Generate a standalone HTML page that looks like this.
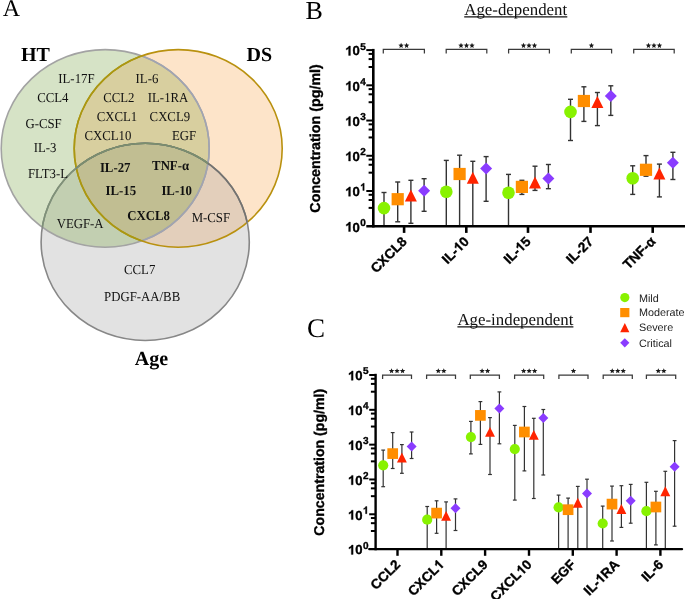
<!DOCTYPE html><html><head><meta charset="utf-8"><style>html,body{margin:0;padding:0;background:#fff;}svg{display:block;will-change:transform;text-rendering:geometricPrecision;} .cb{stroke:#000;stroke-width:0.35px;}</style></head><body>
<svg width="685" height="599" viewBox="0 0 685 599">
<rect width="685" height="599" fill="#fff"/>
<defs>
<clipPath id="cHT"><ellipse cx="105.2" cy="148.45" rx="104.0" ry="98.85" /></clipPath>
<clipPath id="cDS"><ellipse cx="178.2" cy="148.45" rx="104.0" ry="98.85" /></clipPath>
<clipPath id="cAG"><ellipse cx="145.2" cy="241.9" rx="104.1" ry="98.6" /></clipPath>
</defs>
<ellipse cx="145.2" cy="241.9" rx="104.1" ry="98.6" fill="#e2e2e2"/>
<ellipse cx="105.2" cy="148.45" rx="104.0" ry="98.85" fill="#d6e3c6"/>
<ellipse cx="178.2" cy="148.45" rx="104.0" ry="98.85" fill="#fde4c9"/>
<g clip-path="url(#cDS)"><ellipse cx="105.2" cy="148.45" rx="104.0" ry="98.85" fill="#d8cf9f"/></g>
<g clip-path="url(#cHT)"><ellipse cx="145.2" cy="241.9" rx="104.1" ry="98.6" fill="#c2cfb1"/></g>
<g clip-path="url(#cDS)"><ellipse cx="145.2" cy="241.9" rx="104.1" ry="98.6" fill="#e3cfbb"/></g>
<g clip-path="url(#cHT)"><g clip-path="url(#cDS)"><ellipse cx="145.2" cy="241.9" rx="104.1" ry="98.6" fill="#c1be92"/></g></g>
<ellipse cx="105.2" cy="148.45" rx="104.0" ry="98.85" fill="none" stroke="#a3a3a3" stroke-width="1.6"/>
<g clip-path="url(#cDS)"><ellipse cx="105.2" cy="148.45" rx="104.0" ry="98.85" fill="none" stroke="#a1a4b1" stroke-width="1.6"/></g>
<ellipse cx="178.2" cy="148.45" rx="104.0" ry="98.85" fill="none" stroke="#b9910f" stroke-width="1.6"/>
<g clip-path="url(#cHT)"><ellipse cx="178.2" cy="148.45" rx="104.0" ry="98.85" fill="none" stroke="#a99812" stroke-width="1.6"/></g>
<ellipse cx="145.2" cy="241.9" rx="104.1" ry="98.6" fill="none" stroke="#878787" stroke-width="1.6"/>
<g clip-path="url(#cHT)"><ellipse cx="145.2" cy="241.9" rx="104.1" ry="98.6" fill="none" stroke="#7f9278" stroke-width="1.6"/></g>
<g clip-path="url(#cDS)"><ellipse cx="145.2" cy="241.9" rx="104.1" ry="98.6" fill="none" stroke="#747370" stroke-width="1.6"/></g>
<g clip-path="url(#cHT)"><g clip-path="url(#cDS)"><ellipse cx="145.2" cy="241.9" rx="104.1" ry="98.6" fill="none" stroke="#7b8f6e" stroke-width="1.6"/></g></g>
<text transform="translate(58.29,83.10) scale(1,1.07)" font-family='"Liberation Serif", serif' font-size="12.8" font-weight="normal" fill="#111">IL-17F</text>
<text transform="translate(37.19,101.90) scale(1,1.07)" font-family='"Liberation Serif", serif' font-size="12.8" font-weight="normal" fill="#111">CCL4</text>
<text transform="translate(25.39,128.40) scale(1,1.07)" font-family='"Liberation Serif", serif' font-size="12.8" font-weight="normal" fill="#111">G-CSF</text>
<text transform="translate(33.69,152.30) scale(1,1.07)" font-family='"Liberation Serif", serif' font-size="12.8" font-weight="normal" fill="#111">IL-3</text>
<text transform="translate(27.99,178.10) scale(1,1.07)" font-family='"Liberation Serif", serif' font-size="12.8" font-weight="normal" fill="#111">FLT3-L</text>
<text transform="translate(135.59,83.00) scale(1,1.07)" font-family='"Liberation Serif", serif' font-size="12.8" font-weight="normal" fill="#111">IL-6</text>
<text transform="translate(103.19,102.20) scale(1,1.07)" font-family='"Liberation Serif", serif' font-size="12.8" font-weight="normal" fill="#111">CCL2</text>
<text transform="translate(147.79,102.20) scale(1,1.07)" font-family='"Liberation Serif", serif' font-size="12.8" font-weight="normal" fill="#111">IL-1RA</text>
<text transform="translate(96.69,121.20) scale(1,1.07)" font-family='"Liberation Serif", serif' font-size="12.8" font-weight="normal" fill="#111">CXCL1</text>
<text transform="translate(149.59,121.20) scale(1,1.07)" font-family='"Liberation Serif", serif' font-size="12.8" font-weight="normal" fill="#111">CXCL9</text>
<text transform="translate(84.39,139.60) scale(1,1.07)" font-family='"Liberation Serif", serif' font-size="12.8" font-weight="normal" fill="#111">CXCL10</text>
<text transform="translate(171.99,139.60) scale(1,1.07)" font-family='"Liberation Serif", serif' font-size="12.8" font-weight="normal" fill="#111">EGF</text>
<text transform="translate(99.89,171.80) scale(1,1.07)" font-family='"Liberation Serif", serif' font-size="12.8" font-weight="bold" fill="#111">IL-27</text>
<text transform="translate(152.09,169.90) scale(1,1.07)" font-family='"Liberation Serif", serif' font-size="12.8" font-weight="bold" fill="#111">TNF-α</text>
<text transform="translate(105.59,194.60) scale(1,1.07)" font-family='"Liberation Serif", serif' font-size="12.8" font-weight="bold" fill="#111">IL-15</text>
<text transform="translate(161.39,194.60) scale(1,1.07)" font-family='"Liberation Serif", serif' font-size="12.8" font-weight="bold" fill="#111">IL-10</text>
<text transform="translate(127.19,219.50) scale(1,1.07)" font-family='"Liberation Serif", serif' font-size="12.8" font-weight="bold" fill="#111">CXCL8</text>
<text transform="translate(56.69,227.50) scale(1,1.07)" font-family='"Liberation Serif", serif' font-size="12.8" font-weight="normal" fill="#111">VEGF-A</text>
<text transform="translate(191.69,222.00) scale(1,1.07)" font-family='"Liberation Serif", serif' font-size="12.8" font-weight="normal" fill="#111">M-CSF</text>
<text transform="translate(123.99,274.30) scale(1,1.07)" font-family='"Liberation Serif", serif' font-size="12.8" font-weight="normal" fill="#111">CCL7</text>
<text transform="translate(104.09,300.90) scale(1,1.07)" font-family='"Liberation Serif", serif' font-size="12.8" font-weight="normal" fill="#111">PDGF-AA/BB</text>
<text x="20.9" y="60.7" font-family='"Liberation Serif", serif' font-size="20" font-weight="bold" text-anchor="start" fill="#000" >HT</text>
<text x="246.6" y="60.7" font-family='"Liberation Serif", serif' font-size="20" font-weight="bold" text-anchor="start" fill="#000" >DS</text>
<text x="134.8" y="364.5" font-family='"Liberation Serif", serif' font-size="20" font-weight="bold" text-anchor="start" fill="#000" >Age</text>
<text x="2.65" y="15.6" font-family='"Liberation Serif", serif' font-size="24" font-weight="normal" text-anchor="start" fill="#000" >A</text>
<text x="305.59999999999997" y="18.5" font-family='"Liberation Serif", serif' font-size="26" font-weight="normal" text-anchor="start" fill="#000" >B</text>
<text x="307.0" y="336.9" font-family='"Liberation Serif", serif' font-size="27" font-weight="normal" text-anchor="start" fill="#000" >C</text>
<text x="464.25" y="15.0" font-family='"Liberation Serif", serif' font-size="16.85" font-weight="normal" text-anchor="start" fill="#111" >Age-dependent</text>
<line x1="464.2" y1="16.9" x2="567.3" y2="16.9" stroke="#111" stroke-width="1.2"/>
<text x="457.45000000000005" y="324.6" font-family='"Liberation Serif", serif' font-size="16.85" font-weight="normal" text-anchor="start" fill="#111" >Age-independent</text>
<line x1="457.4" y1="326.8" x2="573.4" y2="326.8" stroke="#111" stroke-width="1.2"/>
<line x1="384" y1="192.5" x2="384" y2="226.2" stroke="#333" stroke-width="1.4"/>
<line x1="381.5" y1="192.5" x2="386.5" y2="192.5" stroke="#333" stroke-width="1.4"/>
<line x1="397.7" y1="182" x2="397.7" y2="221.8" stroke="#333" stroke-width="1.4"/>
<line x1="395.2" y1="182" x2="400.2" y2="182" stroke="#333" stroke-width="1.4"/>
<line x1="395.2" y1="221.8" x2="400.2" y2="221.8" stroke="#333" stroke-width="1.4"/>
<line x1="410.9" y1="180.3" x2="410.9" y2="223.3" stroke="#333" stroke-width="1.4"/>
<line x1="408.4" y1="180.3" x2="413.4" y2="180.3" stroke="#333" stroke-width="1.4"/>
<line x1="408.4" y1="223.3" x2="413.4" y2="223.3" stroke="#333" stroke-width="1.4"/>
<line x1="424.1" y1="178.7" x2="424.1" y2="211.3" stroke="#333" stroke-width="1.4"/>
<line x1="421.6" y1="178.7" x2="426.6" y2="178.7" stroke="#333" stroke-width="1.4"/>
<line x1="421.6" y1="211.3" x2="426.6" y2="211.3" stroke="#333" stroke-width="1.4"/>
<line x1="446.3" y1="160.4" x2="446.3" y2="226.2" stroke="#333" stroke-width="1.4"/>
<line x1="443.8" y1="160.4" x2="448.8" y2="160.4" stroke="#333" stroke-width="1.4"/>
<line x1="459.6" y1="155.2" x2="459.6" y2="226.2" stroke="#333" stroke-width="1.4"/>
<line x1="457.1" y1="155.2" x2="462.1" y2="155.2" stroke="#333" stroke-width="1.4"/>
<line x1="472.8" y1="161.3" x2="472.8" y2="226.2" stroke="#333" stroke-width="1.4"/>
<line x1="470.3" y1="161.3" x2="475.3" y2="161.3" stroke="#333" stroke-width="1.4"/>
<line x1="486.1" y1="156.6" x2="486.1" y2="201.3" stroke="#333" stroke-width="1.4"/>
<line x1="483.6" y1="156.6" x2="488.6" y2="156.6" stroke="#333" stroke-width="1.4"/>
<line x1="483.6" y1="201.3" x2="488.6" y2="201.3" stroke="#333" stroke-width="1.4"/>
<line x1="508.5" y1="174.4" x2="508.5" y2="226.2" stroke="#333" stroke-width="1.4"/>
<line x1="506.0" y1="174.4" x2="511.0" y2="174.4" stroke="#333" stroke-width="1.4"/>
<line x1="521.9" y1="180.3" x2="521.9" y2="194.4" stroke="#333" stroke-width="1.4"/>
<line x1="519.4" y1="180.3" x2="524.4" y2="180.3" stroke="#333" stroke-width="1.4"/>
<line x1="519.4" y1="194.4" x2="524.4" y2="194.4" stroke="#333" stroke-width="1.4"/>
<line x1="535" y1="166.2" x2="535" y2="190.4" stroke="#333" stroke-width="1.4"/>
<line x1="532.5" y1="166.2" x2="537.5" y2="166.2" stroke="#333" stroke-width="1.4"/>
<line x1="532.5" y1="190.4" x2="537.5" y2="190.4" stroke="#333" stroke-width="1.4"/>
<line x1="548.4" y1="164.5" x2="548.4" y2="188.7" stroke="#333" stroke-width="1.4"/>
<line x1="545.9" y1="164.5" x2="550.9" y2="164.5" stroke="#333" stroke-width="1.4"/>
<line x1="545.9" y1="188.7" x2="550.9" y2="188.7" stroke="#333" stroke-width="1.4"/>
<line x1="570.5" y1="99.3" x2="570.5" y2="140.5" stroke="#333" stroke-width="1.4"/>
<line x1="568.0" y1="99.3" x2="573.0" y2="99.3" stroke="#333" stroke-width="1.4"/>
<line x1="568.0" y1="140.5" x2="573.0" y2="140.5" stroke="#333" stroke-width="1.4"/>
<line x1="583.9" y1="86.8" x2="583.9" y2="121.4" stroke="#333" stroke-width="1.4"/>
<line x1="581.4" y1="86.8" x2="586.4" y2="86.8" stroke="#333" stroke-width="1.4"/>
<line x1="581.4" y1="121.4" x2="586.4" y2="121.4" stroke="#333" stroke-width="1.4"/>
<line x1="597.4" y1="92.5" x2="597.4" y2="125.6" stroke="#333" stroke-width="1.4"/>
<line x1="594.9" y1="92.5" x2="599.9" y2="92.5" stroke="#333" stroke-width="1.4"/>
<line x1="594.9" y1="125.6" x2="599.9" y2="125.6" stroke="#333" stroke-width="1.4"/>
<line x1="610.8" y1="85.8" x2="610.8" y2="115.4" stroke="#333" stroke-width="1.4"/>
<line x1="608.3" y1="85.8" x2="613.3" y2="85.8" stroke="#333" stroke-width="1.4"/>
<line x1="608.3" y1="115.4" x2="613.3" y2="115.4" stroke="#333" stroke-width="1.4"/>
<line x1="632.7" y1="165.8" x2="632.7" y2="194.4" stroke="#333" stroke-width="1.4"/>
<line x1="630.2" y1="165.8" x2="635.2" y2="165.8" stroke="#333" stroke-width="1.4"/>
<line x1="630.2" y1="194.4" x2="635.2" y2="194.4" stroke="#333" stroke-width="1.4"/>
<line x1="646" y1="155.6" x2="646" y2="176.2" stroke="#333" stroke-width="1.4"/>
<line x1="643.5" y1="155.6" x2="648.5" y2="155.6" stroke="#333" stroke-width="1.4"/>
<line x1="643.5" y1="176.2" x2="648.5" y2="176.2" stroke="#333" stroke-width="1.4"/>
<line x1="659.4" y1="164.1" x2="659.4" y2="196.9" stroke="#333" stroke-width="1.4"/>
<line x1="656.9" y1="164.1" x2="661.9" y2="164.1" stroke="#333" stroke-width="1.4"/>
<line x1="656.9" y1="196.9" x2="661.9" y2="196.9" stroke="#333" stroke-width="1.4"/>
<line x1="672.9" y1="152.3" x2="672.9" y2="179.5" stroke="#333" stroke-width="1.4"/>
<line x1="670.4" y1="152.3" x2="675.4" y2="152.3" stroke="#333" stroke-width="1.4"/>
<line x1="670.4" y1="179.5" x2="675.4" y2="179.5" stroke="#333" stroke-width="1.4"/>
<circle cx="384" cy="208.1" r="6.3" fill="#88f200"/>
<rect x="391.60" y="193.10" width="12.2" height="12.2" fill="#ff8e00"/>
<polygon points="410.90,189.60 416.90,201.60 404.90,201.60" fill="#ff2400"/>
<polygon points="424.10,184.80 430.10,190.80 424.10,196.80 418.10,190.80" fill="#8a3cff"/>
<circle cx="446.3" cy="191.7" r="6.3" fill="#88f200"/>
<rect x="453.50" y="167.90" width="12.2" height="12.2" fill="#ff8e00"/>
<polygon points="472.80,171.80 478.80,183.80 466.80,183.80" fill="#ff2400"/>
<polygon points="486.10,162.50 492.10,168.50 486.10,174.50 480.10,168.50" fill="#8a3cff"/>
<circle cx="508.5" cy="192.7" r="6.3" fill="#88f200"/>
<rect x="515.80" y="180.80" width="12.2" height="12.2" fill="#ff8e00"/>
<polygon points="535.00,176.40 541.00,188.40 529.00,188.40" fill="#ff2400"/>
<polygon points="548.40,172.40 554.40,178.40 548.40,184.40 542.40,178.40" fill="#8a3cff"/>
<circle cx="570.5" cy="111.9" r="6.3" fill="#88f200"/>
<rect x="577.80" y="94.90" width="12.2" height="12.2" fill="#ff8e00"/>
<polygon points="597.40,96.00 603.40,108.00 591.40,108.00" fill="#ff2400"/>
<polygon points="610.80,90.00 616.80,96.00 610.80,102.00 604.80,96.00" fill="#8a3cff"/>
<circle cx="632.7" cy="178.2" r="6.3" fill="#88f200"/>
<rect x="639.90" y="163.70" width="12.2" height="12.2" fill="#ff8e00"/>
<polygon points="659.40,167.60 665.40,179.60 653.40,179.60" fill="#ff2400"/>
<polygon points="672.90,156.80 678.90,162.80 672.90,168.80 666.90,162.80" fill="#8a3cff"/>
<line x1="373.3" y1="48.9" x2="373.3" y2="227.5" stroke="#000" stroke-width="2.6"/>
<line x1="366.3" y1="226.2" x2="685" y2="226.2" stroke="#000" stroke-width="2.6" stroke-linecap="butt"/>
<line x1="366.3" y1="50.10" x2="373.3" y2="50.10" stroke="#000" stroke-width="2.0"/>
<line x1="368.6" y1="53.90" x2="373.3" y2="53.90" stroke="#000" stroke-width="2.0"/>
<line x1="368.6" y1="59.10" x2="373.3" y2="59.10" stroke="#000" stroke-width="2.0"/>
<line x1="368.6" y1="67.00" x2="373.3" y2="67.00" stroke="#000" stroke-width="2.0"/>
<path d="M799 0L518 0L518 1059C415 962 294 890 151 843L151 1098C226 1123 308 1170 397 1239C486 1308 547 1384 580 1466L799 1466Z" transform="translate(345.30,55.40) scale(0.00640,-0.00640)" fill="#000" stroke="#000" stroke-width="54.7"/>
<text x="352.58" y="55.4" font-family='"Liberation Sans", sans-serif' font-size="13.1" font-weight="bold" text-anchor="start" fill="#000" class="cb">0</text>
<text x="360.3" y="49.5" font-family='"Liberation Sans", sans-serif' font-size="10.0" font-weight="bold" text-anchor="start" fill="#000" class="cb">5</text>
<line x1="366.3" y1="85.32" x2="373.3" y2="85.32" stroke="#000" stroke-width="2.0"/>
<line x1="368.6" y1="89.12" x2="373.3" y2="89.12" stroke="#000" stroke-width="2.0"/>
<line x1="368.6" y1="94.32" x2="373.3" y2="94.32" stroke="#000" stroke-width="2.0"/>
<line x1="368.6" y1="102.22" x2="373.3" y2="102.22" stroke="#000" stroke-width="2.0"/>
<path d="M799 0L518 0L518 1059C415 962 294 890 151 843L151 1098C226 1123 308 1170 397 1239C486 1308 547 1384 580 1466L799 1466Z" transform="translate(345.30,90.62) scale(0.00640,-0.00640)" fill="#000" stroke="#000" stroke-width="54.7"/>
<text x="352.58" y="90.62" font-family='"Liberation Sans", sans-serif' font-size="13.1" font-weight="bold" text-anchor="start" fill="#000" class="cb">0</text>
<text x="360.3" y="84.72" font-family='"Liberation Sans", sans-serif' font-size="10.0" font-weight="bold" text-anchor="start" fill="#000" class="cb">4</text>
<line x1="366.3" y1="120.54" x2="373.3" y2="120.54" stroke="#000" stroke-width="2.0"/>
<line x1="368.6" y1="124.34" x2="373.3" y2="124.34" stroke="#000" stroke-width="2.0"/>
<line x1="368.6" y1="129.54" x2="373.3" y2="129.54" stroke="#000" stroke-width="2.0"/>
<line x1="368.6" y1="137.44" x2="373.3" y2="137.44" stroke="#000" stroke-width="2.0"/>
<path d="M799 0L518 0L518 1059C415 962 294 890 151 843L151 1098C226 1123 308 1170 397 1239C486 1308 547 1384 580 1466L799 1466Z" transform="translate(345.30,125.84) scale(0.00640,-0.00640)" fill="#000" stroke="#000" stroke-width="54.7"/>
<text x="352.58" y="125.84" font-family='"Liberation Sans", sans-serif' font-size="13.1" font-weight="bold" text-anchor="start" fill="#000" class="cb">0</text>
<text x="360.3" y="119.94" font-family='"Liberation Sans", sans-serif' font-size="10.0" font-weight="bold" text-anchor="start" fill="#000" class="cb">3</text>
<line x1="366.3" y1="155.76" x2="373.3" y2="155.76" stroke="#000" stroke-width="2.0"/>
<line x1="368.6" y1="159.56" x2="373.3" y2="159.56" stroke="#000" stroke-width="2.0"/>
<line x1="368.6" y1="164.76" x2="373.3" y2="164.76" stroke="#000" stroke-width="2.0"/>
<line x1="368.6" y1="172.66" x2="373.3" y2="172.66" stroke="#000" stroke-width="2.0"/>
<path d="M799 0L518 0L518 1059C415 962 294 890 151 843L151 1098C226 1123 308 1170 397 1239C486 1308 547 1384 580 1466L799 1466Z" transform="translate(345.30,161.06) scale(0.00640,-0.00640)" fill="#000" stroke="#000" stroke-width="54.7"/>
<text x="352.58" y="161.06" font-family='"Liberation Sans", sans-serif' font-size="13.1" font-weight="bold" text-anchor="start" fill="#000" class="cb">0</text>
<text x="360.3" y="155.16" font-family='"Liberation Sans", sans-serif' font-size="10.0" font-weight="bold" text-anchor="start" fill="#000" class="cb">2</text>
<line x1="366.3" y1="190.98" x2="373.3" y2="190.98" stroke="#000" stroke-width="2.0"/>
<line x1="368.6" y1="194.78" x2="373.3" y2="194.78" stroke="#000" stroke-width="2.0"/>
<line x1="368.6" y1="199.98" x2="373.3" y2="199.98" stroke="#000" stroke-width="2.0"/>
<line x1="368.6" y1="207.88" x2="373.3" y2="207.88" stroke="#000" stroke-width="2.0"/>
<path d="M799 0L518 0L518 1059C415 962 294 890 151 843L151 1098C226 1123 308 1170 397 1239C486 1308 547 1384 580 1466L799 1466Z" transform="translate(345.30,196.28) scale(0.00640,-0.00640)" fill="#000" stroke="#000" stroke-width="54.7"/>
<text x="352.58" y="196.28" font-family='"Liberation Sans", sans-serif' font-size="13.1" font-weight="bold" text-anchor="start" fill="#000" class="cb">0</text>
<path d="M799 0L518 0L518 1059C415 962 294 890 151 843L151 1098C226 1123 308 1170 397 1239C486 1308 547 1384 580 1466L799 1466Z" transform="translate(360.30,190.38) scale(0.00488,-0.00488)" fill="#000" stroke="#000" stroke-width="71.7"/>
<path d="M799 0L518 0L518 1059C415 962 294 890 151 843L151 1098C226 1123 308 1170 397 1239C486 1308 547 1384 580 1466L799 1466Z" transform="translate(345.30,231.50) scale(0.00640,-0.00640)" fill="#000" stroke="#000" stroke-width="54.7"/>
<text x="352.58" y="231.5" font-family='"Liberation Sans", sans-serif' font-size="13.1" font-weight="bold" text-anchor="start" fill="#000" class="cb">0</text>
<text x="360.3" y="225.6" font-family='"Liberation Sans", sans-serif' font-size="10.0" font-weight="bold" text-anchor="start" fill="#000" class="cb">0</text>
<line x1="404.1" y1="226.2" x2="404.1" y2="232.89999999999998" stroke="#000" stroke-width="2.6"/>
<line x1="466.3" y1="226.2" x2="466.3" y2="232.89999999999998" stroke="#000" stroke-width="2.6"/>
<line x1="528.0" y1="226.2" x2="528.0" y2="232.89999999999998" stroke="#000" stroke-width="2.6"/>
<line x1="590.5" y1="226.2" x2="590.5" y2="232.89999999999998" stroke="#000" stroke-width="2.6"/>
<line x1="652.7" y1="226.2" x2="652.7" y2="232.89999999999998" stroke="#000" stroke-width="2.6"/>
<polyline points="383.3,53.6 383.3,49.4 424.4,49.4 424.4,53.6" fill="none" stroke="#3a3a3a" stroke-width="1.25"/>
<polygon points="401.10,42.75 401.85,44.56 403.81,44.72 402.32,46.00 402.78,47.91 401.10,46.88 399.42,47.91 399.88,46.00 398.39,44.72 400.35,44.56" fill="#1a1a1a"/>
<polygon points="406.60,42.75 407.35,44.56 409.31,44.72 407.82,46.00 408.28,47.91 406.60,46.88 404.92,47.91 405.38,46.00 403.89,44.72 405.85,44.56" fill="#1a1a1a"/>
<polyline points="446.2,53.6 446.2,49.4 486.8,49.4 486.8,53.6" fill="none" stroke="#3a3a3a" stroke-width="1.25"/>
<polygon points="461.00,42.75 461.75,44.56 463.71,44.72 462.22,46.00 462.68,47.91 461.00,46.88 459.32,47.91 459.78,46.00 458.29,44.72 460.25,44.56" fill="#1a1a1a"/>
<polygon points="466.50,42.75 467.25,44.56 469.21,44.72 467.72,46.00 468.18,47.91 466.50,46.88 464.82,47.91 465.28,46.00 463.79,44.72 465.75,44.56" fill="#1a1a1a"/>
<polygon points="472.00,42.75 472.75,44.56 474.71,44.72 473.22,46.00 473.68,47.91 472.00,46.88 470.32,47.91 470.78,46.00 469.29,44.72 471.25,44.56" fill="#1a1a1a"/>
<polyline points="508.6,53.6 508.6,49.4 549.4,49.4 549.4,53.6" fill="none" stroke="#3a3a3a" stroke-width="1.25"/>
<polygon points="523.50,42.75 524.25,44.56 526.21,44.72 524.72,46.00 525.18,47.91 523.50,46.88 521.82,47.91 522.28,46.00 520.79,44.72 522.75,44.56" fill="#1a1a1a"/>
<polygon points="529.00,42.75 529.75,44.56 531.71,44.72 530.22,46.00 530.68,47.91 529.00,46.88 527.32,47.91 527.78,46.00 526.29,44.72 528.25,44.56" fill="#1a1a1a"/>
<polygon points="534.50,42.75 535.25,44.56 537.21,44.72 535.72,46.00 536.18,47.91 534.50,46.88 532.82,47.91 533.28,46.00 531.79,44.72 533.75,44.56" fill="#1a1a1a"/>
<polyline points="571.3,53.6 571.3,49.4 611.6,49.4 611.6,53.6" fill="none" stroke="#3a3a3a" stroke-width="1.25"/>
<polygon points="591.45,42.75 592.20,44.56 594.16,44.72 592.67,46.00 593.13,47.91 591.45,46.88 589.77,47.91 590.23,46.00 588.74,44.72 590.70,44.56" fill="#1a1a1a"/>
<polyline points="633.7,53.6 633.7,49.4 674.2,49.4 674.2,53.6" fill="none" stroke="#3a3a3a" stroke-width="1.25"/>
<polygon points="648.45,42.75 649.20,44.56 651.16,44.72 649.67,46.00 650.13,47.91 648.45,46.88 646.77,47.91 647.23,46.00 645.74,44.72 647.70,44.56" fill="#1a1a1a"/>
<polygon points="653.95,42.75 654.70,44.56 656.66,44.72 655.17,46.00 655.63,47.91 653.95,46.88 652.27,47.91 652.73,46.00 651.24,44.72 653.20,44.56" fill="#1a1a1a"/>
<polygon points="659.45,42.75 660.20,44.56 662.16,44.72 660.67,46.00 661.13,47.91 659.45,46.88 657.77,47.91 658.23,46.00 656.74,44.72 658.70,44.56" fill="#1a1a1a"/>
<g transform="translate(407.70,242.30) rotate(-45)"><text x="-44.59" y="0" font-family='"Liberation Sans", sans-serif' font-size="13.6" font-weight="bold" fill="#000" class="cb" style="font-kerning:none">CXCL8</text></g>
<g transform="translate(469.90,242.30) rotate(-45)"><text x="-31.74" y="0" font-family='"Liberation Sans", sans-serif' font-size="13.6" font-weight="bold" fill="#000" class="cb" style="font-kerning:none">IL-</text><path d="M799 0L518 0L518 1059C415 962 294 890 151 843L151 1098C226 1123 308 1170 397 1239C486 1308 547 1384 580 1466L799 1466Z" transform="translate(-15.13,0.00) scale(0.00664,-0.00664)" fill="#000" stroke="#000" stroke-width="52.7"/><text x="-7.56" y="0" font-family='"Liberation Sans", sans-serif' font-size="13.6" font-weight="bold" fill="#000" class="cb" style="font-kerning:none">0</text></g>
<g transform="translate(531.60,242.30) rotate(-45)"><text x="-31.74" y="0" font-family='"Liberation Sans", sans-serif' font-size="13.6" font-weight="bold" fill="#000" class="cb" style="font-kerning:none">IL-</text><path d="M799 0L518 0L518 1059C415 962 294 890 151 843L151 1098C226 1123 308 1170 397 1239C486 1308 547 1384 580 1466L799 1466Z" transform="translate(-15.13,0.00) scale(0.00664,-0.00664)" fill="#000" stroke="#000" stroke-width="52.7"/><text x="-7.56" y="0" font-family='"Liberation Sans", sans-serif' font-size="13.6" font-weight="bold" fill="#000" class="cb" style="font-kerning:none">5</text></g>
<g transform="translate(594.10,242.30) rotate(-45)"><text x="-31.74" y="0" font-family='"Liberation Sans", sans-serif' font-size="13.6" font-weight="bold" fill="#000" class="cb" style="font-kerning:none">IL-27</text></g>
<g transform="translate(656.30,242.30) rotate(-45)"><text x="-39.33" y="0" font-family='"Liberation Sans", sans-serif' font-size="13.6" font-weight="bold" fill="#000" class="cb" style="font-kerning:none">TNF-α</text></g>
<text transform="translate(320.0,138.4) rotate(-90)" font-family='"Liberation Sans", sans-serif' font-size="14.3" font-weight="bold" text-anchor="middle" fill="#000" class="cb">Concentration (pg/ml)</text>
<line x1="383.2" y1="450.1" x2="383.2" y2="486.7" stroke="#333" stroke-width="1.2"/>
<line x1="381.3" y1="450.1" x2="385.09999999999997" y2="450.1" stroke="#333" stroke-width="1.2"/>
<line x1="381.3" y1="486.7" x2="385.09999999999997" y2="486.7" stroke="#333" stroke-width="1.2"/>
<line x1="392.7" y1="432.6" x2="392.7" y2="468.5" stroke="#333" stroke-width="1.2"/>
<line x1="390.8" y1="432.6" x2="394.59999999999997" y2="432.6" stroke="#333" stroke-width="1.2"/>
<line x1="390.8" y1="468.5" x2="394.59999999999997" y2="468.5" stroke="#333" stroke-width="1.2"/>
<line x1="401.9" y1="444.6" x2="401.9" y2="473.3" stroke="#333" stroke-width="1.2"/>
<line x1="400.0" y1="444.6" x2="403.79999999999995" y2="444.6" stroke="#333" stroke-width="1.2"/>
<line x1="400.0" y1="473.3" x2="403.79999999999995" y2="473.3" stroke="#333" stroke-width="1.2"/>
<line x1="411.6" y1="432" x2="411.6" y2="458.5" stroke="#333" stroke-width="1.2"/>
<line x1="409.70000000000005" y1="432" x2="413.5" y2="432" stroke="#333" stroke-width="1.2"/>
<line x1="409.70000000000005" y1="458.5" x2="413.5" y2="458.5" stroke="#333" stroke-width="1.2"/>
<line x1="427.2" y1="506.5" x2="427.2" y2="549.1" stroke="#333" stroke-width="1.2"/>
<line x1="425.3" y1="506.5" x2="429.09999999999997" y2="506.5" stroke="#333" stroke-width="1.2"/>
<line x1="436.6" y1="500.8" x2="436.6" y2="533.3" stroke="#333" stroke-width="1.2"/>
<line x1="434.70000000000005" y1="500.8" x2="438.5" y2="500.8" stroke="#333" stroke-width="1.2"/>
<line x1="434.70000000000005" y1="533.3" x2="438.5" y2="533.3" stroke="#333" stroke-width="1.2"/>
<line x1="446.1" y1="501.9" x2="446.1" y2="549.1" stroke="#333" stroke-width="1.2"/>
<line x1="444.20000000000005" y1="501.9" x2="448.0" y2="501.9" stroke="#333" stroke-width="1.2"/>
<line x1="455.5" y1="498.9" x2="455.5" y2="530.5" stroke="#333" stroke-width="1.2"/>
<line x1="453.6" y1="498.9" x2="457.4" y2="498.9" stroke="#333" stroke-width="1.2"/>
<line x1="453.6" y1="530.5" x2="457.4" y2="530.5" stroke="#333" stroke-width="1.2"/>
<line x1="470.9" y1="421.4" x2="470.9" y2="453.9" stroke="#333" stroke-width="1.2"/>
<line x1="469.0" y1="421.4" x2="472.79999999999995" y2="421.4" stroke="#333" stroke-width="1.2"/>
<line x1="469.0" y1="453.9" x2="472.79999999999995" y2="453.9" stroke="#333" stroke-width="1.2"/>
<line x1="480.4" y1="401.6" x2="480.4" y2="444.4" stroke="#333" stroke-width="1.2"/>
<line x1="478.5" y1="401.6" x2="482.29999999999995" y2="401.6" stroke="#333" stroke-width="1.2"/>
<line x1="478.5" y1="444.4" x2="482.29999999999995" y2="444.4" stroke="#333" stroke-width="1.2"/>
<line x1="490" y1="417.6" x2="490" y2="474.5" stroke="#333" stroke-width="1.2"/>
<line x1="488.1" y1="417.6" x2="491.9" y2="417.6" stroke="#333" stroke-width="1.2"/>
<line x1="488.1" y1="474.5" x2="491.9" y2="474.5" stroke="#333" stroke-width="1.2"/>
<line x1="499.4" y1="391.9" x2="499.4" y2="443.8" stroke="#333" stroke-width="1.2"/>
<line x1="497.5" y1="391.9" x2="501.29999999999995" y2="391.9" stroke="#333" stroke-width="1.2"/>
<line x1="497.5" y1="443.8" x2="501.29999999999995" y2="443.8" stroke="#333" stroke-width="1.2"/>
<line x1="514.8" y1="425.4" x2="514.8" y2="500.1" stroke="#333" stroke-width="1.2"/>
<line x1="512.9" y1="425.4" x2="516.6999999999999" y2="425.4" stroke="#333" stroke-width="1.2"/>
<line x1="512.9" y1="500.1" x2="516.6999999999999" y2="500.1" stroke="#333" stroke-width="1.2"/>
<line x1="524.4" y1="406.5" x2="524.4" y2="470.9" stroke="#333" stroke-width="1.2"/>
<line x1="522.5" y1="406.5" x2="526.3" y2="406.5" stroke="#333" stroke-width="1.2"/>
<line x1="522.5" y1="470.9" x2="526.3" y2="470.9" stroke="#333" stroke-width="1.2"/>
<line x1="533.8" y1="418.3" x2="533.8" y2="498.5" stroke="#333" stroke-width="1.2"/>
<line x1="531.9" y1="418.3" x2="535.6999999999999" y2="418.3" stroke="#333" stroke-width="1.2"/>
<line x1="531.9" y1="498.5" x2="535.6999999999999" y2="498.5" stroke="#333" stroke-width="1.2"/>
<line x1="543.3" y1="409.5" x2="543.3" y2="475" stroke="#333" stroke-width="1.2"/>
<line x1="541.4" y1="409.5" x2="545.1999999999999" y2="409.5" stroke="#333" stroke-width="1.2"/>
<line x1="541.4" y1="475" x2="545.1999999999999" y2="475" stroke="#333" stroke-width="1.2"/>
<line x1="558.6" y1="495.1" x2="558.6" y2="549.1" stroke="#333" stroke-width="1.2"/>
<line x1="556.7" y1="495.1" x2="560.5" y2="495.1" stroke="#333" stroke-width="1.2"/>
<line x1="568.1" y1="498.1" x2="568.1" y2="549.1" stroke="#333" stroke-width="1.2"/>
<line x1="566.2" y1="498.1" x2="570.0" y2="498.1" stroke="#333" stroke-width="1.2"/>
<line x1="577.8" y1="486.4" x2="577.8" y2="549.1" stroke="#333" stroke-width="1.2"/>
<line x1="575.9" y1="486.4" x2="579.6999999999999" y2="486.4" stroke="#333" stroke-width="1.2"/>
<line x1="587" y1="479.2" x2="587" y2="549.1" stroke="#333" stroke-width="1.2"/>
<line x1="585.1" y1="479.2" x2="588.9" y2="479.2" stroke="#333" stroke-width="1.2"/>
<line x1="602.7" y1="506.1" x2="602.7" y2="549.1" stroke="#333" stroke-width="1.2"/>
<line x1="600.8000000000001" y1="506.1" x2="604.6" y2="506.1" stroke="#333" stroke-width="1.2"/>
<line x1="612" y1="486.1" x2="612" y2="541" stroke="#333" stroke-width="1.2"/>
<line x1="610.1" y1="486.1" x2="613.9" y2="486.1" stroke="#333" stroke-width="1.2"/>
<line x1="610.1" y1="541" x2="613.9" y2="541" stroke="#333" stroke-width="1.2"/>
<line x1="621.4" y1="485.7" x2="621.4" y2="527.4" stroke="#333" stroke-width="1.2"/>
<line x1="619.5" y1="485.7" x2="623.3" y2="485.7" stroke="#333" stroke-width="1.2"/>
<line x1="619.5" y1="527.4" x2="623.3" y2="527.4" stroke="#333" stroke-width="1.2"/>
<line x1="630.7" y1="484.4" x2="630.7" y2="523.2" stroke="#333" stroke-width="1.2"/>
<line x1="628.8000000000001" y1="484.4" x2="632.6" y2="484.4" stroke="#333" stroke-width="1.2"/>
<line x1="628.8000000000001" y1="523.2" x2="632.6" y2="523.2" stroke="#333" stroke-width="1.2"/>
<line x1="646.4" y1="482.3" x2="646.4" y2="549.1" stroke="#333" stroke-width="1.2"/>
<line x1="644.5" y1="482.3" x2="648.3" y2="482.3" stroke="#333" stroke-width="1.2"/>
<line x1="655.9" y1="491.3" x2="655.9" y2="544.9" stroke="#333" stroke-width="1.2"/>
<line x1="654.0" y1="491.3" x2="657.8" y2="491.3" stroke="#333" stroke-width="1.2"/>
<line x1="654.0" y1="544.9" x2="657.8" y2="544.9" stroke="#333" stroke-width="1.2"/>
<line x1="665.3" y1="471.3" x2="665.3" y2="549.1" stroke="#333" stroke-width="1.2"/>
<line x1="663.4" y1="471.3" x2="667.1999999999999" y2="471.3" stroke="#333" stroke-width="1.2"/>
<line x1="674.6" y1="440.6" x2="674.6" y2="526.2" stroke="#333" stroke-width="1.2"/>
<line x1="672.7" y1="440.6" x2="676.5" y2="440.6" stroke="#333" stroke-width="1.2"/>
<line x1="672.7" y1="526.2" x2="676.5" y2="526.2" stroke="#333" stroke-width="1.2"/>
<circle cx="383.2" cy="465.3" r="5.1" fill="#88f200"/>
<rect x="387.35" y="448.25" width="10.7" height="10.7" fill="#ff8e00"/>
<polygon points="401.90,452.55 406.85,462.45 396.95,462.45" fill="#ff2400"/>
<polygon points="411.60,441.40 416.60,446.40 411.60,451.40 406.60,446.40" fill="#8a3cff"/>
<circle cx="427.2" cy="519.7" r="5.1" fill="#88f200"/>
<rect x="431.25" y="507.75" width="10.7" height="10.7" fill="#ff8e00"/>
<polygon points="446.10,510.95 451.05,520.85 441.15,520.85" fill="#ff2400"/>
<polygon points="455.50,503.30 460.50,508.30 455.50,513.30 450.50,508.30" fill="#8a3cff"/>
<circle cx="470.9" cy="437.1" r="5.1" fill="#88f200"/>
<rect x="475.05" y="410.05" width="10.7" height="10.7" fill="#ff8e00"/>
<polygon points="490.00,426.95 494.95,436.85 485.05,436.85" fill="#ff2400"/>
<polygon points="499.40,403.60 504.40,408.60 499.40,413.60 494.40,408.60" fill="#8a3cff"/>
<circle cx="514.8" cy="449.1" r="5.1" fill="#88f200"/>
<rect x="519.05" y="426.65" width="10.7" height="10.7" fill="#ff8e00"/>
<polygon points="533.80,429.95 538.75,439.85 528.85,439.85" fill="#ff2400"/>
<polygon points="543.30,413.00 548.30,418.00 543.30,423.00 538.30,418.00" fill="#8a3cff"/>
<circle cx="558.6" cy="507.3" r="5.1" fill="#88f200"/>
<rect x="562.75" y="504.35" width="10.7" height="10.7" fill="#ff8e00"/>
<polygon points="577.80,497.75 582.75,507.65 572.85,507.65" fill="#ff2400"/>
<polygon points="587.00,488.60 592.00,493.60 587.00,498.60 582.00,493.60" fill="#8a3cff"/>
<circle cx="602.7" cy="523.5" r="5.1" fill="#88f200"/>
<rect x="606.65" y="498.75" width="10.7" height="10.7" fill="#ff8e00"/>
<polygon points="621.40,504.05 626.35,513.95 616.45,513.95" fill="#ff2400"/>
<polygon points="630.70,495.70 635.70,500.70 630.70,505.70 625.70,500.70" fill="#8a3cff"/>
<circle cx="646.4" cy="511.2" r="5.1" fill="#88f200"/>
<rect x="650.55" y="501.65" width="10.7" height="10.7" fill="#ff8e00"/>
<polygon points="665.30,486.35 670.25,496.25 660.35,496.25" fill="#ff2400"/>
<polygon points="674.60,461.70 679.60,466.70 674.60,471.70 669.60,466.70" fill="#8a3cff"/>
<line x1="375.6" y1="373.8" x2="375.6" y2="550.3000000000001" stroke="#000" stroke-width="2.4"/>
<line x1="369.3" y1="549.1" x2="682.0" y2="549.1" stroke="#000" stroke-width="2.4" stroke-linecap="round"/>
<line x1="369.2" y1="375.00" x2="375.6" y2="375.00" stroke="#000" stroke-width="2.0"/>
<line x1="370.9" y1="378.76" x2="375.6" y2="378.76" stroke="#000" stroke-width="2.0"/>
<line x1="370.9" y1="383.90" x2="375.6" y2="383.90" stroke="#000" stroke-width="2.0"/>
<line x1="370.9" y1="391.71" x2="375.6" y2="391.71" stroke="#000" stroke-width="2.0"/>
<path d="M799 0L518 0L518 1059C415 962 294 890 151 843L151 1098C226 1123 308 1170 397 1239C486 1308 547 1384 580 1466L799 1466Z" transform="translate(348.00,380.30) scale(0.00640,-0.00640)" fill="#000" stroke="#000" stroke-width="54.7"/>
<text x="355.28" y="380.3" font-family='"Liberation Sans", sans-serif' font-size="13.1" font-weight="bold" text-anchor="start" fill="#000" class="cb">0</text>
<text x="363.0" y="374.4" font-family='"Liberation Sans", sans-serif' font-size="10.0" font-weight="bold" text-anchor="start" fill="#000" class="cb">5</text>
<line x1="369.2" y1="409.82" x2="375.6" y2="409.82" stroke="#000" stroke-width="2.0"/>
<line x1="370.9" y1="413.58" x2="375.6" y2="413.58" stroke="#000" stroke-width="2.0"/>
<line x1="370.9" y1="418.72" x2="375.6" y2="418.72" stroke="#000" stroke-width="2.0"/>
<line x1="370.9" y1="426.53" x2="375.6" y2="426.53" stroke="#000" stroke-width="2.0"/>
<path d="M799 0L518 0L518 1059C415 962 294 890 151 843L151 1098C226 1123 308 1170 397 1239C486 1308 547 1384 580 1466L799 1466Z" transform="translate(348.00,415.12) scale(0.00640,-0.00640)" fill="#000" stroke="#000" stroke-width="54.7"/>
<text x="355.28" y="415.12" font-family='"Liberation Sans", sans-serif' font-size="13.1" font-weight="bold" text-anchor="start" fill="#000" class="cb">0</text>
<text x="363.0" y="409.22" font-family='"Liberation Sans", sans-serif' font-size="10.0" font-weight="bold" text-anchor="start" fill="#000" class="cb">4</text>
<line x1="369.2" y1="444.64" x2="375.6" y2="444.64" stroke="#000" stroke-width="2.0"/>
<line x1="370.9" y1="448.40" x2="375.6" y2="448.40" stroke="#000" stroke-width="2.0"/>
<line x1="370.9" y1="453.54" x2="375.6" y2="453.54" stroke="#000" stroke-width="2.0"/>
<line x1="370.9" y1="461.35" x2="375.6" y2="461.35" stroke="#000" stroke-width="2.0"/>
<path d="M799 0L518 0L518 1059C415 962 294 890 151 843L151 1098C226 1123 308 1170 397 1239C486 1308 547 1384 580 1466L799 1466Z" transform="translate(348.00,449.94) scale(0.00640,-0.00640)" fill="#000" stroke="#000" stroke-width="54.7"/>
<text x="355.28" y="449.94" font-family='"Liberation Sans", sans-serif' font-size="13.1" font-weight="bold" text-anchor="start" fill="#000" class="cb">0</text>
<text x="363.0" y="444.04" font-family='"Liberation Sans", sans-serif' font-size="10.0" font-weight="bold" text-anchor="start" fill="#000" class="cb">3</text>
<line x1="369.2" y1="479.46" x2="375.6" y2="479.46" stroke="#000" stroke-width="2.0"/>
<line x1="370.9" y1="483.22" x2="375.6" y2="483.22" stroke="#000" stroke-width="2.0"/>
<line x1="370.9" y1="488.36" x2="375.6" y2="488.36" stroke="#000" stroke-width="2.0"/>
<line x1="370.9" y1="496.17" x2="375.6" y2="496.17" stroke="#000" stroke-width="2.0"/>
<path d="M799 0L518 0L518 1059C415 962 294 890 151 843L151 1098C226 1123 308 1170 397 1239C486 1308 547 1384 580 1466L799 1466Z" transform="translate(348.00,484.76) scale(0.00640,-0.00640)" fill="#000" stroke="#000" stroke-width="54.7"/>
<text x="355.28" y="484.76" font-family='"Liberation Sans", sans-serif' font-size="13.1" font-weight="bold" text-anchor="start" fill="#000" class="cb">0</text>
<text x="363.0" y="478.86" font-family='"Liberation Sans", sans-serif' font-size="10.0" font-weight="bold" text-anchor="start" fill="#000" class="cb">2</text>
<line x1="369.2" y1="514.28" x2="375.6" y2="514.28" stroke="#000" stroke-width="2.0"/>
<line x1="370.9" y1="518.04" x2="375.6" y2="518.04" stroke="#000" stroke-width="2.0"/>
<line x1="370.9" y1="523.18" x2="375.6" y2="523.18" stroke="#000" stroke-width="2.0"/>
<line x1="370.9" y1="530.99" x2="375.6" y2="530.99" stroke="#000" stroke-width="2.0"/>
<path d="M799 0L518 0L518 1059C415 962 294 890 151 843L151 1098C226 1123 308 1170 397 1239C486 1308 547 1384 580 1466L799 1466Z" transform="translate(348.00,519.58) scale(0.00640,-0.00640)" fill="#000" stroke="#000" stroke-width="54.7"/>
<text x="355.28" y="519.58" font-family='"Liberation Sans", sans-serif' font-size="13.1" font-weight="bold" text-anchor="start" fill="#000" class="cb">0</text>
<path d="M799 0L518 0L518 1059C415 962 294 890 151 843L151 1098C226 1123 308 1170 397 1239C486 1308 547 1384 580 1466L799 1466Z" transform="translate(363.00,513.68) scale(0.00488,-0.00488)" fill="#000" stroke="#000" stroke-width="71.7"/>
<path d="M799 0L518 0L518 1059C415 962 294 890 151 843L151 1098C226 1123 308 1170 397 1239C486 1308 547 1384 580 1466L799 1466Z" transform="translate(348.00,554.40) scale(0.00640,-0.00640)" fill="#000" stroke="#000" stroke-width="54.7"/>
<text x="355.28" y="554.4" font-family='"Liberation Sans", sans-serif' font-size="13.1" font-weight="bold" text-anchor="start" fill="#000" class="cb">0</text>
<text x="363.0" y="548.5" font-family='"Liberation Sans", sans-serif' font-size="10.0" font-weight="bold" text-anchor="start" fill="#000" class="cb">0</text>
<line x1="397.5" y1="549.1" x2="397.5" y2="555.8000000000001" stroke="#000" stroke-width="2.4"/>
<line x1="441.3" y1="549.1" x2="441.3" y2="555.8000000000001" stroke="#000" stroke-width="2.4"/>
<line x1="485.1" y1="549.1" x2="485.1" y2="555.8000000000001" stroke="#000" stroke-width="2.4"/>
<line x1="529.0" y1="549.1" x2="529.0" y2="555.8000000000001" stroke="#000" stroke-width="2.4"/>
<line x1="572.8" y1="549.1" x2="572.8" y2="555.8000000000001" stroke="#000" stroke-width="2.4"/>
<line x1="616.6" y1="549.1" x2="616.6" y2="555.8000000000001" stroke="#000" stroke-width="2.4"/>
<line x1="660.4" y1="549.1" x2="660.4" y2="555.8000000000001" stroke="#000" stroke-width="2.4"/>
<polyline points="382.6,379.1 382.6,375.1 411.5,375.1 411.5,379.1" fill="none" stroke="#3a3a3a" stroke-width="1.25"/>
<polygon points="391.55,368.15 392.30,369.96 394.26,370.12 392.77,371.40 393.23,373.31 391.55,372.28 389.87,373.31 390.33,371.40 388.84,370.12 390.80,369.96" fill="#1a1a1a"/>
<polygon points="397.05,368.15 397.80,369.96 399.76,370.12 398.27,371.40 398.73,373.31 397.05,372.28 395.37,373.31 395.83,371.40 394.34,370.12 396.30,369.96" fill="#1a1a1a"/>
<polygon points="402.55,368.15 403.30,369.96 405.26,370.12 403.77,371.40 404.23,373.31 402.55,372.28 400.87,373.31 401.33,371.40 399.84,370.12 401.80,369.96" fill="#1a1a1a"/>
<polyline points="426.6,379.1 426.6,375.1 455.5,375.1 455.5,379.1" fill="none" stroke="#3a3a3a" stroke-width="1.25"/>
<polygon points="438.30,368.15 439.05,369.96 441.01,370.12 439.52,371.40 439.98,373.31 438.30,372.28 436.62,373.31 437.08,371.40 435.59,370.12 437.55,369.96" fill="#1a1a1a"/>
<polygon points="443.80,368.15 444.55,369.96 446.51,370.12 445.02,371.40 445.48,373.31 443.80,372.28 442.12,373.31 442.58,371.40 441.09,370.12 443.05,369.96" fill="#1a1a1a"/>
<polyline points="470.3,379.1 470.3,375.1 499.4,375.1 499.4,379.1" fill="none" stroke="#3a3a3a" stroke-width="1.25"/>
<polygon points="482.10,368.15 482.85,369.96 484.81,370.12 483.32,371.40 483.78,373.31 482.10,372.28 480.42,373.31 480.88,371.40 479.39,370.12 481.35,369.96" fill="#1a1a1a"/>
<polygon points="487.60,368.15 488.35,369.96 490.31,370.12 488.82,371.40 489.28,373.31 487.60,372.28 485.92,373.31 486.38,371.40 484.89,370.12 486.85,369.96" fill="#1a1a1a"/>
<polyline points="514.6,379.1 514.6,375.1 543.7,375.1 543.7,379.1" fill="none" stroke="#3a3a3a" stroke-width="1.25"/>
<polygon points="523.65,368.15 524.40,369.96 526.36,370.12 524.87,371.40 525.33,373.31 523.65,372.28 521.97,373.31 522.43,371.40 520.94,370.12 522.90,369.96" fill="#1a1a1a"/>
<polygon points="529.15,368.15 529.90,369.96 531.86,370.12 530.37,371.40 530.83,373.31 529.15,372.28 527.47,373.31 527.93,371.40 526.44,370.12 528.40,369.96" fill="#1a1a1a"/>
<polygon points="534.65,368.15 535.40,369.96 537.36,370.12 535.87,371.40 536.33,373.31 534.65,372.28 532.97,373.31 533.43,371.40 531.94,370.12 533.90,369.96" fill="#1a1a1a"/>
<polyline points="558.9,379.1 558.9,375.1 588.0,375.1 588.0,379.1" fill="none" stroke="#3a3a3a" stroke-width="1.25"/>
<polygon points="573.45,368.15 574.20,369.96 576.16,370.12 574.67,371.40 575.13,373.31 573.45,372.28 571.77,373.31 572.23,371.40 570.74,370.12 572.70,369.96" fill="#1a1a1a"/>
<polyline points="603.2,379.1 603.2,375.1 632.3,375.1 632.3,379.1" fill="none" stroke="#3a3a3a" stroke-width="1.25"/>
<polygon points="612.25,368.15 613.00,369.96 614.96,370.12 613.47,371.40 613.93,373.31 612.25,372.28 610.57,373.31 611.03,371.40 609.54,370.12 611.50,369.96" fill="#1a1a1a"/>
<polygon points="617.75,368.15 618.50,369.96 620.46,370.12 618.97,371.40 619.43,373.31 617.75,372.28 616.07,373.31 616.53,371.40 615.04,370.12 617.00,369.96" fill="#1a1a1a"/>
<polygon points="623.25,368.15 624.00,369.96 625.96,370.12 624.47,371.40 624.93,373.31 623.25,372.28 621.57,373.31 622.03,371.40 620.54,370.12 622.50,369.96" fill="#1a1a1a"/>
<polyline points="646.4,379.1 646.4,375.1 675.7,375.1 675.7,379.1" fill="none" stroke="#3a3a3a" stroke-width="1.25"/>
<polygon points="658.30,368.15 659.05,369.96 661.01,370.12 659.52,371.40 659.98,373.31 658.30,372.28 656.62,373.31 657.08,371.40 655.59,370.12 657.55,369.96" fill="#1a1a1a"/>
<polygon points="663.80,368.15 664.55,369.96 666.51,370.12 665.02,371.40 665.48,373.31 663.80,372.28 662.12,373.31 662.58,371.40 661.09,370.12 663.05,369.96" fill="#1a1a1a"/>
<g transform="translate(401.10,565.30) rotate(-45)"><text x="-35.51" y="0" font-family='"Liberation Sans", sans-serif' font-size="13.6" font-weight="bold" fill="#000" class="cb" style="font-kerning:none">CCL2</text></g>
<g transform="translate(444.90,565.30) rotate(-45)"><text x="-44.59" y="0" font-family='"Liberation Sans", sans-serif' font-size="13.6" font-weight="bold" fill="#000" class="cb" style="font-kerning:none">CXCL</text><path d="M799 0L518 0L518 1059C415 962 294 890 151 843L151 1098C226 1123 308 1170 397 1239C486 1308 547 1384 580 1466L799 1466Z" transform="translate(-7.56,0.00) scale(0.00664,-0.00664)" fill="#000" stroke="#000" stroke-width="52.7"/></g>
<g transform="translate(488.70,565.30) rotate(-45)"><text x="-44.59" y="0" font-family='"Liberation Sans", sans-serif' font-size="13.6" font-weight="bold" fill="#000" class="cb" style="font-kerning:none">CXCL9</text></g>
<g transform="translate(532.60,565.30) rotate(-45)"><text x="-52.15" y="0" font-family='"Liberation Sans", sans-serif' font-size="13.6" font-weight="bold" fill="#000" class="cb" style="font-kerning:none">CXCL</text><path d="M799 0L518 0L518 1059C415 962 294 890 151 843L151 1098C226 1123 308 1170 397 1239C486 1308 547 1384 580 1466L799 1466Z" transform="translate(-15.13,0.00) scale(0.00664,-0.00664)" fill="#000" stroke="#000" stroke-width="52.7"/><text x="-7.56" y="0" font-family='"Liberation Sans", sans-serif' font-size="13.6" font-weight="bold" fill="#000" class="cb" style="font-kerning:none">0</text></g>
<g transform="translate(576.40,565.30) rotate(-45)"><text x="-27.96" y="0" font-family='"Liberation Sans", sans-serif' font-size="13.6" font-weight="bold" fill="#000" class="cb" style="font-kerning:none">EGF</text></g>
<g transform="translate(620.20,565.30) rotate(-45)"><text x="-43.82" y="0" font-family='"Liberation Sans", sans-serif' font-size="13.6" font-weight="bold" fill="#000" class="cb" style="font-kerning:none">IL-</text><path d="M799 0L518 0L518 1059C415 962 294 890 151 843L151 1098C226 1123 308 1170 397 1239C486 1308 547 1384 580 1466L799 1466Z" transform="translate(-27.21,0.00) scale(0.00664,-0.00664)" fill="#000" stroke="#000" stroke-width="52.7"/><text x="-19.64" y="0" font-family='"Liberation Sans", sans-serif' font-size="13.6" font-weight="bold" fill="#000" class="cb" style="font-kerning:none">RA</text></g>
<g transform="translate(664.00,565.30) rotate(-45)"><text x="-24.18" y="0" font-family='"Liberation Sans", sans-serif' font-size="13.6" font-weight="bold" fill="#000" class="cb" style="font-kerning:none">IL-6</text></g>
<text transform="translate(323.5,462.2) rotate(-90)" font-family='"Liberation Sans", sans-serif' font-size="14.15" font-weight="bold" text-anchor="middle" fill="#000" class="cb">Concentration (pg/ml)</text>
<circle cx="624.8" cy="297.6" r="4.6" fill="#88f200"/>
<text x="638.9399999999999" y="301.5" font-family='"Liberation Sans", sans-serif' font-size="10.8" font-weight="normal" text-anchor="start" fill="#222" >Mild</text>
<rect x="620.20" y="308.00" width="9.2" height="9.2" fill="#ff8e00"/>
<text x="638.9399999999999" y="316.3" font-family='"Liberation Sans", sans-serif' font-size="10.8" font-weight="normal" text-anchor="start" fill="#222" >Moderate</text>
<polygon points="624.80,323.10 629.40,332.30 620.20,332.30" fill="#ff2400"/>
<text x="638.9399999999999" y="331.3" font-family='"Liberation Sans", sans-serif' font-size="10.8" font-weight="normal" text-anchor="start" fill="#222" >Severe</text>
<polygon points="624.80,338.20 629.40,342.80 624.80,347.40 620.20,342.80" fill="#8a3cff"/>
<text x="638.9399999999999" y="346.6" font-family='"Liberation Sans", sans-serif' font-size="10.8" font-weight="normal" text-anchor="start" fill="#222" >Critical</text>
</svg></body></html>
